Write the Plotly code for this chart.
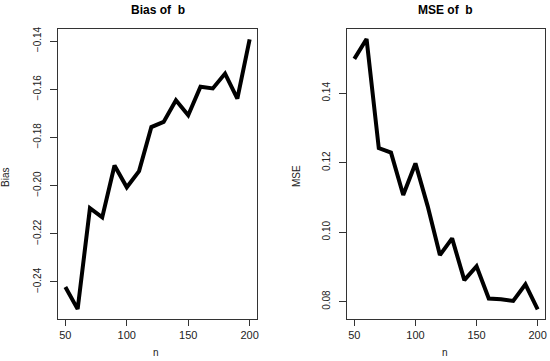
import plotly.graph_objects as go
from plotly.subplots import make_subplots

n = [50, 60, 70, 80, 90, 100, 110, 120, 130, 140, 150, 160, 170, 180, 190, 200]
bias_b = [-0.2421, -0.2513, -0.2094, -0.2132, -0.1917, -0.2007, -0.1940, -0.1757,
          -0.1736, -0.1646, -0.1708, -0.1590, -0.1597, -0.1535, -0.1639, -0.1393]
mse_b = [0.1499, 0.1556, 0.1242, 0.1229, 0.1107, 0.1198, 0.1075, 0.0934,
         0.0982, 0.0862, 0.0902, 0.0809, 0.0807, 0.0802, 0.0850, 0.0778]

bias_ticks = [-0.24, -0.22, -0.20, -0.18, -0.16, -0.14]
mse_ticks = [0.08, 0.10, 0.12, 0.14]
n_ticks = [50, 100, 150, 200]

fig = make_subplots(rows=1, cols=2)
fig.add_trace(go.Scatter(x=n, y=bias_b, mode='lines',
                         line=dict(color='black', width=4)), row=1, col=1)
fig.add_trace(go.Scatter(x=n, y=mse_b, mode='lines',
                         line=dict(color='black', width=4)), row=1, col=2)

xcommon = dict(range=[44, 206], tickvals=n_ticks, ticks='outside', ticklen=6,
               tickcolor='#333', showline=True, linecolor='#333', linewidth=1,
               mirror=True, showgrid=False, zeroline=False, automargin=False,
               tickfont=dict(family='Liberation Sans, Arial', size=11, color='#222'))
ycommon = dict(ticks='outside', ticklen=7, tickcolor='#333', showline=True,
               linecolor='#333', linewidth=1, mirror=True, showgrid=False,
               zeroline=False, tickangle=-90, automargin=False, ticklabelstandoff=5,
               tickfont=dict(family='Liberation Sans Narrow, Arial Narrow, sans-serif',
                             size=10, color='#222'))

fig.update_layout(
    width=550, height=361,
    margin=dict(l=0, r=0, t=0, b=0),
    paper_bgcolor='white', plot_bgcolor='white',
    showlegend=False,
    xaxis=dict(domain=[58 / 550, 257 / 550], **xcommon),
    xaxis2=dict(domain=[347 / 550, 545 / 550], **xcommon),
    yaxis=dict(domain=[1 - 319 / 361, 1 - 29 / 361], range=[-0.2554, -0.135],
               tickvals=bias_ticks, tickformat='.2f', **ycommon),
    yaxis2=dict(domain=[1 - 319 / 361, 1 - 29 / 361], range=[0.075, 0.1585],
                tickvals=mse_ticks, tickformat='.2f', **ycommon),
)

title_font = dict(family='Liberation Sans, Arial', size=12, color='black', weight='bold')
label_font = dict(family='Liberation Sans, Arial', size=10, color='#222')


def note(text, x, y, font, angle=0):
    fig.add_annotation(text=text, x=x / 550, y=1 - y / 361, textangle=angle,
                       xref='paper', yref='paper', xanchor='center', yanchor='middle',
                       showarrow=False, font=font)


note('Bias of\u00a0\u00a0b', 158, 10, title_font)
note('MSE of\u00a0\u00a0b', 445, 10, title_font)
note('Bias', 6, 178, label_font, -90)
note('MSE', 296, 176, label_font, -90)
note('n', 156, 352, label_font)
note('n', 445, 352, label_font)

# the page body has a default 8px margin; drop it so the figure sits at the corner
fig.write_html("out.html", config={'displayModeBar': False},
               post_script="document.body.style.margin='0';")
